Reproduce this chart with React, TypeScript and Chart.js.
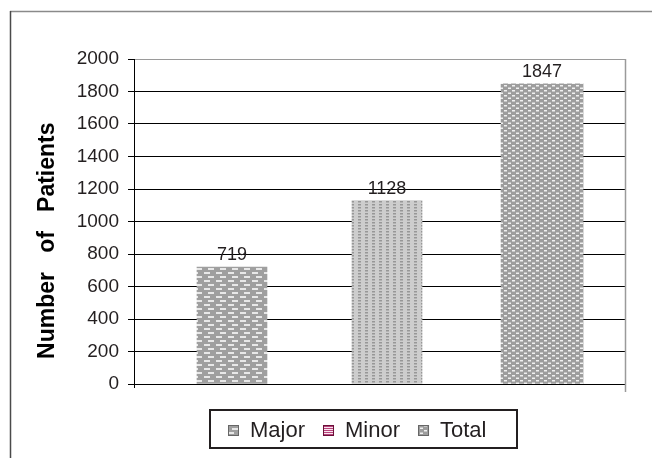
import React, { useEffect, useRef } from 'react';
import { Chart, registerables } from 'chart.js';

Chart.register(...registerables);

const categories = ['Major', 'Minor', 'Total'];
const values = [719, 1128, 1847];
const yMin = 0;
const yMax = 2000;
const yStep = 200;
const axisTitle = 'Number   of   Patients';

function tile(w: number, h: number, bg: string, draw: (c: CanvasRenderingContext2D) => void) {
  const cv = document.createElement('canvas');
  cv.width = w;
  cv.height = h;
  const c = cv.getContext('2d') as CanvasRenderingContext2D;
  c.fillStyle = bg;
  c.fillRect(0, 0, w, h);
  draw(c);
  return c.createPattern(cv, 'repeat') as CanvasPattern;
}

function makePatterns() {
  const major = tile(12, 8, '#9f9f9f', (c) => {
    c.fillStyle = '#e8e8e8';
    c.fillRect(0, 0, 6, 2);
    c.fillRect(4, 4, 6, 2);
  });
  const minor = tile(7, 3, '#cdcdcd', (c) => {
    c.fillStyle = '#979797';
    c.fillRect(1, 0, 3, 1.5);
  });
  const total = tile(8, 5, '#9d9d9d', (c) => {
    c.fillStyle = '#f0f0f0';
    c.fillRect(0, 0, 3, 1.5);
    c.fillRect(4, 2.5, 3, 1.5);
  });
  const minorIcon = tile(3, 2, '#f8e4ee', (c) => {
    c.fillStyle = '#b8437c';
    c.fillRect(0, 0, 3, 1);
  });
  return { bars: [major, minor, total], icons: [major, minorIcon, total] };
}

export default function App() {
  const ref = useRef<HTMLCanvasElement | null>(null);

  useEffect(() => {
    const canvas = ref.current;
    if (!canvas) return;
    const pats = makePatterns();
    const thickness = [70, 70, 82];

    const decor = {
      id: 'decor',
      afterDatasetsDraw(chart: any) {
        const ctx = chart.ctx as CanvasRenderingContext2D;
        ctx.save();
        ctx.font = '18px "Liberation Sans", Arial, sans-serif';
        ctx.fillStyle = '#231f20';
        ctx.textAlign = 'center';
        ctx.textBaseline = 'alphabetic';
        chart.data.datasets.forEach((_: any, i: number) => {
          const el = chart.getDatasetMeta(i).data[0];
          if (el) ctx.fillText(String(values[i]), el.x, el.y - 7);
        });
        ctx.restore();
      },
      afterDraw(chart: any) {
        const ctx = chart.ctx as CanvasRenderingContext2D;
        const a = chart.chartArea;
        ctx.save();
        // plot right border
        ctx.strokeStyle = '#9a9a9a';
        ctx.lineWidth = 1.5;
        ctx.beginPath();
        ctx.moveTo(Math.round(a.right) + 0.5, a.top);
        ctx.lineTo(Math.round(a.right) + 0.5, a.bottom + 8);
        ctx.stroke();
        // small tick under the axis start
        ctx.strokeStyle = '#000';
        ctx.lineWidth = 1;
        ctx.beginPath();
        ctx.moveTo(Math.round(a.left) + 0.5, a.bottom);
        ctx.lineTo(Math.round(a.left) + 0.5, a.bottom + 4);
        ctx.stroke();
        // outer frame (only top and left visible)
        ctx.strokeStyle = '#8a8a8a';
        ctx.lineWidth = 1.5;
        ctx.beginPath();
        ctx.moveTo(10, 11.5);
        ctx.lineTo(chart.width, 11.5);
        ctx.stroke();
        ctx.strokeStyle = '#4a4a4a';
        ctx.beginPath();
        ctx.moveTo(10.5, 11);
        ctx.lineTo(10.5, chart.height);
        ctx.stroke();
        // legend
        const boxL = 210, boxT = 410, boxR = 517, boxB = 448;
        ctx.strokeStyle = '#231f20';
        ctx.lineWidth = 2;
        ctx.strokeRect(boxL, boxT, boxR - boxL, boxB - boxT);
        ctx.font = '22px "Liberation Sans", Arial, sans-serif';
        const icon = 11, iconGap = 11, gap = 18;
        const widths = categories.map((c) => ctx.measureText(c).width);
        const totalW = widths.reduce((s, w) => s + icon + iconGap + w, 0) + gap * (categories.length - 1);
        let x = Math.round((boxL + boxR) / 2 - 6 - totalW / 2);
        const cy = (boxT + boxB) / 2 + 1;
        categories.forEach((c, i) => {
          ctx.fillStyle = pats.icons[i];
          ctx.fillRect(x, cy - 5, icon, icon);
          ctx.strokeStyle = i === 1 ? '#6a1038' : '#666';
          ctx.lineWidth = 1;
          ctx.strokeRect(x + 0.5, cy - 4.5, icon - 1, icon - 1);
          ctx.fillStyle = '#231f20';
          ctx.textAlign = 'left';
          ctx.textBaseline = 'middle';
          ctx.fillText(c, x + icon + iconGap, cy + 1);
          x += icon + iconGap + widths[i] + gap;
        });
        ctx.restore();
      },
    };

    const chart = new Chart(canvas, {
      type: 'bar',
      data: {
        datasets: categories.map((c, i) => ({
          label: c,
          data: [{ x: i, y: values[i] }],
          backgroundColor: pats.bars[i],
          borderWidth: 0,
          barThickness: thickness[i],
          grouped: false,
        })),
      } as any,
      options: {
        animation: false,
        responsive: false,
        layout: { padding: { top: 59, right: 27, bottom: 0, left: 0 } },
        plugins: { legend: { display: false }, tooltip: { enabled: false } },
        scales: {
          x: {
            type: 'linear',
            offset: false,
            min: -0.632,
            max: 2.535,
            ticks: { display: false },
            grid: { display: false },
            border: { display: true, color: '#000', width: 1 },
            afterFit: (s: any) => { s.height = 74; },
          },
          y: {
            min: yMin,
            max: yMax,
            ticks: {
              stepSize: yStep,
              padding: 9,
              color: '#231f20',
              font: { family: '"Liberation Sans", Arial, sans-serif', size: 19 },
              callback: (v: any) => String(v),
            },
            grid: {
              color: (ctx: any) => (ctx.tick && ctx.tick.value === yMax ? '#9a9a9a' : '#000'),
              tickColor: '#000',
              tickLength: 6,
              lineWidth: 1,
            },
            border: { display: true, color: '#000', width: 1 },
            title: {
              display: true,
              text: axisTitle + '      ',
              color: '#000',
              font: { family: '"Liberation Sans", Arial, sans-serif', size: 23, weight: 'bold' },
              padding: { top: 34, bottom: 0 },
            },
            afterFit: (s: any) => { s.width = 134; },
          },
        },
      } as any,
      plugins: [decor],
    });
    return () => chart.destroy();
  }, []);

  return (
    <div style={{ position: 'absolute', left: 0, top: 0, width: 652, height: 458, background: '#fff' }}>
      <canvas ref={ref} width={652} height={458} style={{ display: 'block' }} />
    </div>
  );
}
